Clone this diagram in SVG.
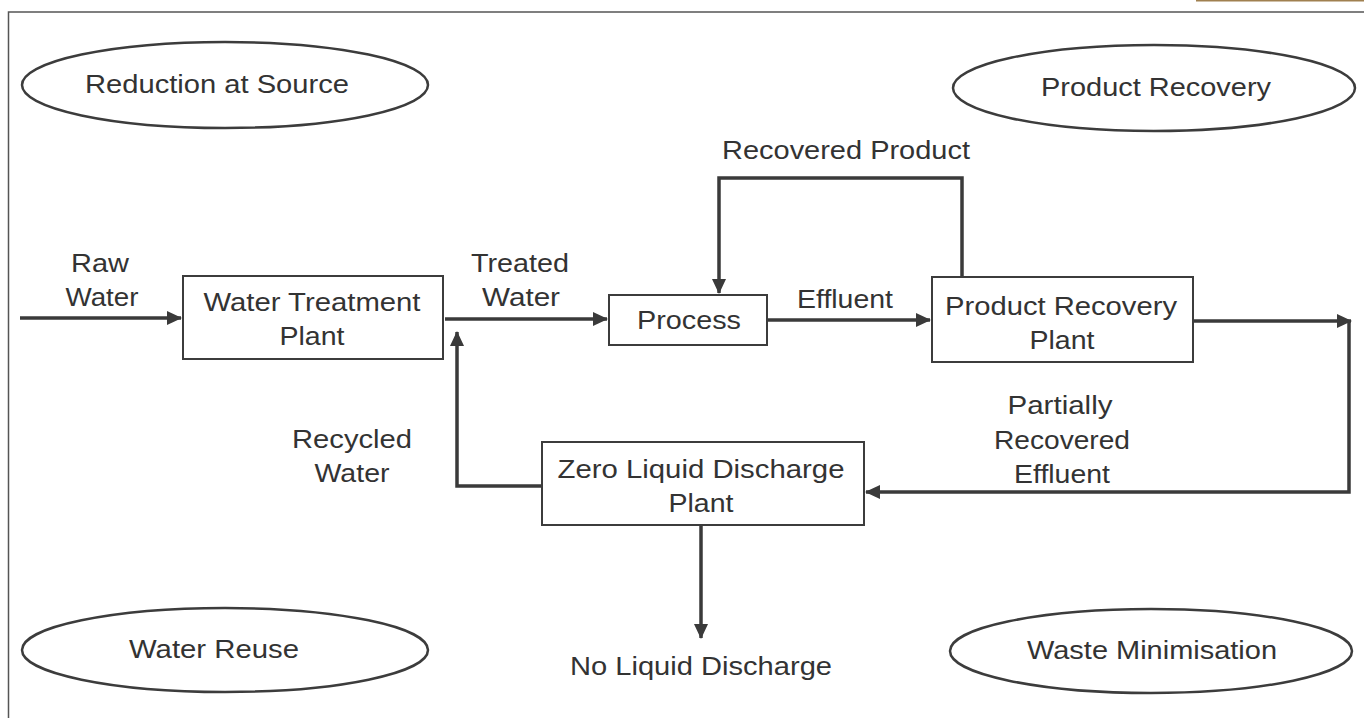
<svg xmlns="http://www.w3.org/2000/svg" width="1364" height="718" viewBox="0 0 1364 718">
<defs>
<marker id="arr" viewBox="0 0 15 14" refX="14" refY="7" markerWidth="15" markerHeight="14" orient="auto" markerUnits="userSpaceOnUse"><path d="M0,0 L15,7 L0,14 z" fill="#3a3a3a"/></marker>
</defs>
<style>
text{font-family:"Liberation Sans",Arial,sans-serif;font-size:25px;fill:#333;text-anchor:middle}
.box{fill:#fff;stroke:#3c3c3c;stroke-width:2}
.ell{fill:#fff;stroke:#3c3c3c;stroke-width:2.5}
.con{fill:none;stroke:#3a3a3a;stroke-width:3.5}
</style>
<rect width="1364" height="718" fill="#fff"/>
<line x1="1196" y1="0.5" x2="1364" y2="0.5" stroke="#a08050" stroke-width="2"/>
<path d="M1364,12 H8.5 V718" fill="none" stroke="#555" stroke-width="1.5"/>

<g id="e-reduction"><ellipse class="ell" cx="225" cy="85" rx="203" ry="43"/><text x="217" y="93" textLength="264" lengthAdjust="spacingAndGlyphs">Reduction at Source</text></g>
<g id="e-product"><ellipse class="ell" cx="1154" cy="88" rx="201" ry="43"/><text x="1156" y="96" textLength="230" lengthAdjust="spacingAndGlyphs">Product Recovery</text></g>
<g id="e-reuse"><ellipse class="ell" cx="225" cy="650" rx="203" ry="42"/><text x="214" y="658" textLength="170" lengthAdjust="spacingAndGlyphs">Water Reuse</text></g>
<g id="e-waste"><ellipse class="ell" cx="1151" cy="651" rx="201" ry="42"/><text x="1152" y="659" textLength="250" lengthAdjust="spacingAndGlyphs">Waste Minimisation</text></g>

<g id="connectors">
<line class="con" x1="20" y1="318" x2="181" y2="318" marker-end="url(#arr)"/>
<line class="con" x1="445" y1="319" x2="607" y2="319" marker-end="url(#arr)"/>
<line class="con" x1="768" y1="320" x2="930" y2="320" marker-end="url(#arr)"/>
<line class="con" x1="1193" y1="321" x2="1351" y2="321" marker-end="url(#arr)"/>
<path class="con" d="M1349,321 V492 H866" marker-end="url(#arr)"/>
<path class="con" d="M962,277 V178 H719 V293" marker-end="url(#arr)"/>
<path class="con" d="M542,486 H457 V332" marker-end="url(#arr)"/>
<line class="con" x1="701" y1="525" x2="701" y2="638" marker-end="url(#arr)"/>
<text x="100" y="272" textLength="58" lengthAdjust="spacingAndGlyphs">Raw</text><text x="102" y="306" textLength="73" lengthAdjust="spacingAndGlyphs">Water</text>
<text x="520" y="272" textLength="98" lengthAdjust="spacingAndGlyphs">Treated</text><text x="521" y="306" textLength="78" lengthAdjust="spacingAndGlyphs">Water</text>
<text x="845" y="308" textLength="96" lengthAdjust="spacingAndGlyphs">Effluent</text>
<text x="846" y="159" textLength="248" lengthAdjust="spacingAndGlyphs">Recovered Product</text>
<text x="1060" y="414" textLength="105" lengthAdjust="spacingAndGlyphs">Partially</text><text x="1062" y="449" textLength="136" lengthAdjust="spacingAndGlyphs">Recovered</text><text x="1062" y="483" textLength="96" lengthAdjust="spacingAndGlyphs">Effluent</text>
<text x="352" y="448" textLength="120" lengthAdjust="spacingAndGlyphs">Recycled</text><text x="352" y="482" textLength="75" lengthAdjust="spacingAndGlyphs">Water</text>
<text x="701" y="675" textLength="262" lengthAdjust="spacingAndGlyphs">No Liquid Discharge</text>
</g>

<g id="n-wtp"><rect class="box" x="183" y="276" width="260" height="83"/><text x="312" y="311" textLength="217" lengthAdjust="spacingAndGlyphs">Water Treatment</text><text x="312" y="345" textLength="65" lengthAdjust="spacingAndGlyphs">Plant</text></g>
<g id="n-process"><rect class="box" x="609" y="295" width="158" height="50"/><text x="689" y="329" textLength="104" lengthAdjust="spacingAndGlyphs">Process</text></g>
<g id="n-prp"><rect class="box" x="932" y="277" width="261" height="85"/><text x="1061" y="315" textLength="232" lengthAdjust="spacingAndGlyphs">Product Recovery</text><text x="1062" y="349" textLength="65" lengthAdjust="spacingAndGlyphs">Plant</text></g>
<g id="n-zld"><rect class="box" x="542" y="442" width="322" height="83"/><text x="701" y="478" textLength="287" lengthAdjust="spacingAndGlyphs">Zero Liquid Discharge</text><text x="701" y="512" textLength="65" lengthAdjust="spacingAndGlyphs">Plant</text></g>
</svg>
